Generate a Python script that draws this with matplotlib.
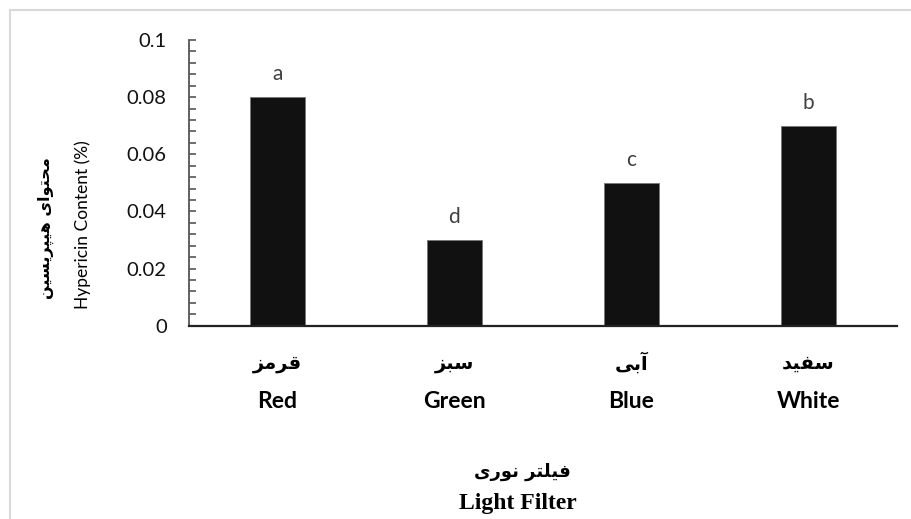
import matplotlib
matplotlib.use('agg')
import matplotlib.pyplot as plt
from matplotlib.ticker import MultipleLocator, FuncFormatter
from matplotlib.patches import Rectangle

# data
categories_en = ['Red', 'Green', 'Blue', 'White']
categories_fa = ['قرمز', 'سبز', 'آبی', 'سفید']
values = [0.08, 0.03, 0.05, 0.07]
letters = ['a', 'd', 'c', 'b']
xlabel_en = 'Light Filter'
xlabel_fa = 'فیلتر نوری'
ylabel_en = 'Hypericin Content (%)'
ylabel_fa = 'محتوای هیپریسین'

# matplotlib has no arabic shaping, so pick presentation forms by hand
# (isolated, final, initial, medial)
FORMS = {
    'ق': (0xFED5, 0xFED6, 0xFED7, 0xFED8), 'م': (0xFEE1, 0xFEE2, 0xFEE3, 0xFEE4),
    'س': (0xFEB1, 0xFEB2, 0xFEB3, 0xFEB4), 'ب': (0xFE8F, 0xFE90, 0xFE91, 0xFE92),
    'ی': (0xFBFC, 0xFBFD, 0xFBFE, 0xFBFF), 'ف': (0xFED1, 0xFED2, 0xFED3, 0xFED4),
    'ل': (0xFEDD, 0xFEDE, 0xFEDF, 0xFEE0), 'ت': (0xFE95, 0xFE96, 0xFE97, 0xFE98),
    'ن': (0xFEE5, 0xFEE6, 0xFEE7, 0xFEE8), 'ح': (0xFEA1, 0xFEA2, 0xFEA3, 0xFEA4),
    'ه': (0xFEE9, 0xFEEA, 0xFEEB, 0xFEEC), 'پ': (0xFB56, 0xFB57, 0xFB58, 0xFB59),
    'ر': (0xFEAD, 0xFEAE), 'ز': (0xFEAF, 0xFEB0), 'آ': (0xFE81, 0xFE82),
    'د': (0xFEA9, 0xFEAA), 'و': (0xFEED, 0xFEEE), 'ا': (0xFE8D, 0xFE8E),
}


def shape(text):
    out = []
    for i, ch in enumerate(text):
        if ch not in FORMS:
            out.append(ch)
            continue
        prev = text[i - 1] if i > 0 else ''
        nxt = text[i + 1] if i + 1 < len(text) else ''
        jp = prev in FORMS and len(FORMS[prev]) == 4
        jn = nxt in FORMS and len(FORMS[ch]) == 4
        f = FORMS[ch]
        if jp and jn:
            c = f[3]
        elif jp:
            c = f[1]
        elif jn:
            c = f[2]
        else:
            c = f[0]
        out.append(chr(c))
    return ''.join(reversed(out))


W, H = 912, 519
fig = plt.figure(figsize=(W / 100, H / 100), dpi=100)

# light grey frame around the chart area
fig.patches.append(Rectangle((10 / W, -0.1), 1.2, 1 - 10 / H + 0.1, transform=fig.transFigure,
                             fill=False, edgecolor='#d9d9d9', linewidth=1.5))

ax = fig.add_axes([189 / W, 1 - 325.7 / H, (897 - 189) / W, (325.7 - 40) / H])
x = range(len(values))
ax.bar(x, values, width=0.31, color='#111111', edgecolor='#777777', linewidth=0.6)

for xi, v, l in zip(x, values, letters):
    ax.annotate(l, (xi, v), xytext=(0, 17), textcoords='offset pixels', ha='center',
                va='baseline', fontsize=15, color='#404040', family='Lato')

ax.set_xlim(-0.5, 3.5)
ax.set_ylim(0, 0.1)
ax.yaxis.set_major_locator(MultipleLocator(0.02))
ax.yaxis.set_minor_locator(MultipleLocator(0.004))
ax.yaxis.set_major_formatter(FuncFormatter(lambda v, p: f'{v:g}'))
ax.tick_params(axis='y', which='both', direction='in', length=5, width=1.2, color='#555555',
               pad=16, labelsize=14.5, labelcolor='#111111')
for t in ax.get_yticklabels():
    t.set_family('Lato')
ax.set_xticks([])
for s in ['top', 'right']:
    ax.spines[s].set_visible(False)
ax.spines['left'].set_color('#555555')
ax.spines['left'].set_linewidth(1.3)
ax.spines['bottom'].set_color('#222222')
ax.spines['bottom'].set_linewidth(1.6)

tr = ax.get_xaxis_transform()
for xi, en, fa in zip(x, categories_en, categories_fa):
    ax.text(xi, (325.7 - 363) / 285.7, shape(fa), transform=tr, ha='center', va='center',
            fontsize=14, fontweight='bold', family='DejaVu Sans')
    ax.text(xi, (325.7 - 401) / 285.7, en, transform=tr, ha='center', va='center',
            fontsize=16.5, fontweight='bold', family='Lato')

fig.text(522 / W, 1 - 472 / H, shape(xlabel_fa), ha='center', va='center', fontsize=13,
         fontweight='bold', family='DejaVu Sans')
fig.text(518 / W, 1 - 503 / H, xlabel_en, ha='center', va='center', fontsize=17,
         fontweight='bold', family='Liberation Serif')

fig.text(46 / W, 1 - 228 / H, shape(ylabel_fa), rotation=90, ha='center', va='center',
         fontsize=11.5, fontweight='bold', family='DejaVu Sans')
fig.text(83 / W, 1 - 225 / H, ylabel_en, rotation=90, ha='center', va='center',
         fontsize=12.5, family='Lato')

fig.savefig('out.png', dpi=100)
